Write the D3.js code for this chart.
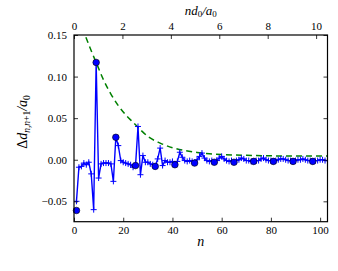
<!DOCTYPE html>
<meta charset="utf-8">
<style>
body { margin: 0; background: #fff; }
text { font-family: "Liberation Serif", "DejaVu Serif", serif; fill: #000; }
</style>
<svg width="338" height="271"></svg>
<script src="https://cdn.jsdelivr.net/npm/d3@7/dist/d3.min.js"></script>
<script>
// values at n = 1..103 (blue line with + markers)
var lineVals = [
  -0.050, -0.009, -0.008, -0.004, -0.006, -0.003, -0.017, -0.060, 0.117, -0.022,
  -0.005, -0.004, -0.004, -0.004, -0.005, -0.026, 0.027, 0.017, -0.001, -0.003,
  -0.004, -0.005, -0.006, -0.009, -0.007, 0.040, -0.018, 0.005, -0.003, -0.003,
  -0.005, -0.006, -0.008, 0.001, 0.014, -0.007, -0.001, -0.003, -0.003, -0.002,
  -0.006, -0.002, 0.009, 0.003, -0.001, -0.002, -0.001, -0.002, -0.004, 0.000,
  0.004, 0.008, 0.002, -0.001, -0.002, -0.001, -0.003, -0.001, 0.002, 0.004,
  0.001, -0.001, -0.002, -0.001, -0.003, -0.001, 0.000, 0.002, 0.001, -0.001,
  -0.001, -0.002, -0.002, -0.001, -0.001, 0.001, 0.002, 0.000, -0.001, -0.001,
  -0.002, -0.001, 0.000, 0.001, 0.001, 0.000, -0.001, -0.001, -0.002, -0.001,
  0.000, 0.000, 0.001, 0.000, -0.001, -0.001, -0.002, -0.001, -0.001, 0.000,
  0.000, -0.001, -0.001
]

// every 8th site (filled circles)
var dotN = [1, 9, 17, 25, 33, 41, 49, 57, 65, 73, 81, 89, 97]
var dotVals = [-0.061, 0.117, 0.027, -0.007, -0.008, -0.006, -0.004, -0.003, -0.003, -0.002, -0.002, -0.002, -0.002]

// green dashed envelope
var envN =    [2,     4.5,   7,     9,     12,    15,    18,    21,    24,    27,    30,    35,    40,    45,     50,     55,     60,     70,     80,     90,     103]
var envVals = [0.170, 0.150, 0.131, 0.117, 0.096, 0.079, 0.065, 0.054, 0.045, 0.036, 0.028, 0.020, 0.0145, 0.0110, 0.0088, 0.0073, 0.0063, 0.0053, 0.0047, 0.0045, 0.0044]

var yTicks = [-0.05, 0.00, 0.05, 0.10, 0.15]
var xTicks = [0, 20, 40, 60, 80, 100]
var topTicks = [0, 2, 4, 6, 8, 10]

const svg = d3.select('svg')
const pL = 74, pR = 327.5, pT = 35, pB = 221.7

const x = d3.scaleLinear().domain([0, 103]).range([pL, pR])
const xTop = d3.scaleLinear().domain([0, 10.47]).range([pL, pR])
const y = d3.scaleLinear().domain([-0.0745, 0.15]).range([pB, pT])

svg.append('defs').append('clipPath').attr('id', 'clip')
  .append('rect')
  .attr('x', pL).attr('y', pT)
  .attr('width', pR - pL).attr('height', pB - pT)

const plot = svg.append('g').attr('clip-path', 'url(#clip)')

// green dashed curve
plot.append('path')
  .datum(envN.map((n, i) => [n, envVals[i]]))
  .attr('fill', 'none')
  .attr('stroke', '#008000')
  .attr('stroke-width', 1.5)
  .attr('stroke-dasharray', '6,4')
  .attr('d', d3.line().x(d => x(d[0])).y(d => y(d[1])).curve(d3.curveMonotoneX))

const pts = lineVals.map((v, i) => [i + 1, v])

plot.append('path')
  .datum(pts)
  .attr('fill', 'none')
  .attr('stroke', '#0000ff')
  .attr('stroke-width', 1.4)
  .attr('d', d3.line().x(d => x(d[0])).y(d => y(d[1])))

plot.append('g').selectAll('path')
  .data(pts)
  .enter().append('path')
  .attr('transform', d => 'translate(' + x(d[0]) + ',' + y(d[1]) + ')')
  .attr('d', 'M-3,0H3M0,-3V3')
  .attr('stroke', '#0000ff')
  .attr('stroke-width', 1)

svg.append('g').selectAll('circle')
  .data(dotN.map((n, i) => [n, dotVals[i]]))
  .enter().append('circle')
  .attr('cx', d => x(d[0]))
  .attr('cy', d => y(d[1]))
  .attr('r', 3.3)
  .attr('fill', '#0000ff')
  .attr('stroke', '#000')
  .attr('stroke-width', 0.6)

// axes, ticks pointing inward
function styleAxis(g) {
  g.select('.domain').remove()
  g.selectAll('line').attr('stroke', '#000').attr('stroke-width', 0.8)
  g.selectAll('text').style('font-size', '11px').attr('fill', '#000')
}

svg.append('g')
  .attr('transform', 'translate(0,' + pB + ')')
  .call(d3.axisBottom(x).tickValues(xTicks).tickSize(-4).tickPadding(5).tickFormat(d3.format('d')))
  .call(styleAxis)

svg.append('g')
  .attr('transform', 'translate(0,' + pT + ')')
  .call(d3.axisTop(xTop).tickValues(topTicks).tickSize(-4).tickPadding(5).tickFormat(d3.format('d')))
  .call(styleAxis)

svg.append('g')
  .attr('transform', 'translate(' + pL + ',0)')
  .call(d3.axisLeft(y).tickValues(yTicks).tickSize(-4).tickPadding(7).tickFormat(d3.format('.2f')))
  .call(styleAxis)

svg.append('g')
  .attr('transform', 'translate(' + pR + ',0)')
  .call(d3.axisRight(y).tickValues(yTicks).tickSize(-4).tickFormat(''))
  .call(styleAxis)

svg.append('rect')
  .attr('x', pL).attr('y', pT)
  .attr('width', pR - pL).attr('height', pB - pT)
  .attr('fill', 'none')
  .attr('stroke', '#000')
  .attr('stroke-width', 1.2)

// axis labels
svg.append('text')
  .attr('x', (pL + pR) / 2).attr('y', 246)
  .attr('text-anchor', 'middle')
  .style('font-size', '14px').style('font-style', 'italic')
  .text('n')

const topLabel = svg.append('text')
  .attr('x', (pL + pR) / 2).attr('y', 15)
  .attr('text-anchor', 'middle')
  .style('font-size', '13px').style('font-style', 'italic')
topLabel.append('tspan').text('nd')
topLabel.append('tspan').attr('baseline-shift', '-25%').style('font-size', '9px').style('font-style', 'normal').text('0')
topLabel.append('tspan').text('/a')
topLabel.append('tspan').attr('baseline-shift', '-25%').style('font-size', '9px').style('font-style', 'normal').text('0')

const yLabel = svg.append('text')
  .attr('transform', 'translate(27,122) rotate(-90)')
  .attr('text-anchor', 'middle')
  .style('font-size', '14px')
yLabel.append('tspan').text('Δ')
yLabel.append('tspan').style('font-style', 'italic').text('d')
yLabel.append('tspan').attr('baseline-shift', '-25%').style('font-size', '9.5px').style('font-style', 'italic').text('n,n')
yLabel.append('tspan').attr('baseline-shift', '-25%').style('font-size', '9.5px').text('+1')
yLabel.append('tspan').style('font-style', 'italic').text('/a')
yLabel.append('tspan').attr('baseline-shift', '-25%').style('font-size', '9.5px').text('0')
</script>
